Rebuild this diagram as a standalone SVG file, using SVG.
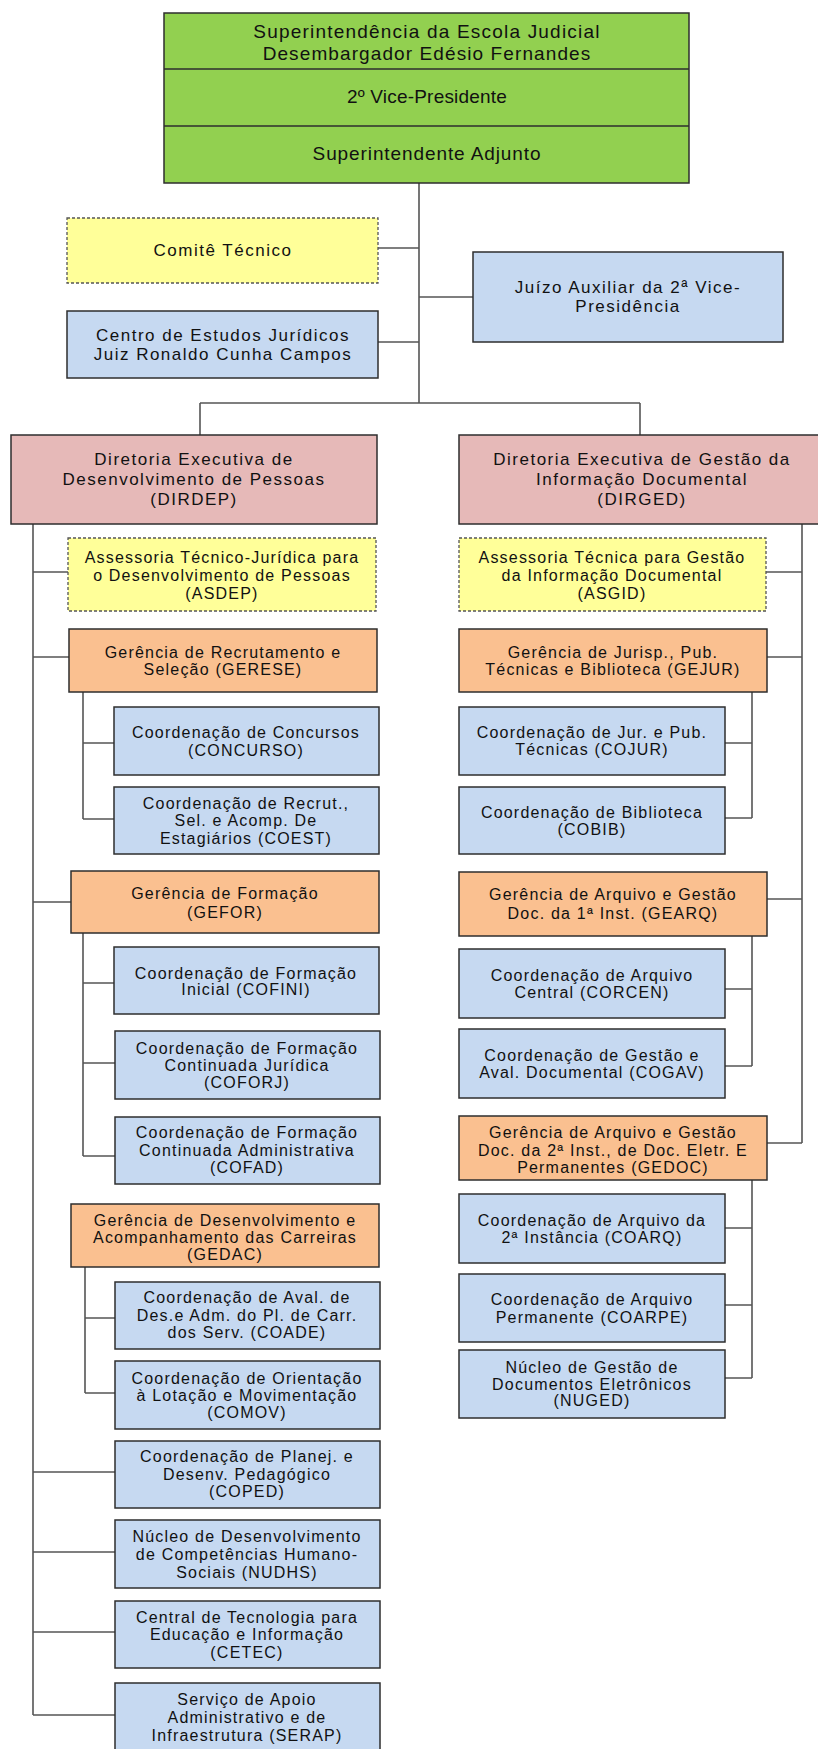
<svg xmlns="http://www.w3.org/2000/svg" width="818" height="1749" viewBox="0 0 818 1749">
<style>
  .box { stroke: #2e2e2e; stroke-width: 1.5; }
  .green { fill: #92D050; }
  .pink { fill: #E6B9B8; }
  .yellow { fill: #FFFF99; stroke: #555; stroke-dasharray: 3 2; stroke-width: 1.3; }
  .orange { fill: #FAC090; }
  .blue { fill: #C6D9F1; }
  text { font-family: "Liberation Sans", Arial, sans-serif; fill: #111; text-anchor: middle; }
  .t19 { font-size: 19px; letter-spacing: 1px; }
  .t17 { font-size: 17px; letter-spacing: 1.5px; }
  .t16 { font-size: 16px; letter-spacing: 1.2px; }
  .conn { fill: none; stroke: #555; stroke-width: 1.6; }
</style>
<rect width="818" height="1749" fill="#fff"/>

<g id="connectors" class="conn">
  <path d="M419,183 V403 M200,403 H640 M200,403 V435 M640,403 V435"/>
  <path d="M378,248 H419 M419,297 H473 M378,342 H419"/>
  <path d="M33,524 V1715 M33,572 H68 M33,657 H69 M33,902 H71 M33,1472 H115 M33,1552 H115 M33,1632 H115 M33,1715 H115"/>
  <path d="M83,692 V819 M83,743 H114 M83,819 H114"/>
  <path d="M83,933 V1156 M83,983 H114 M83,1063 H115 M83,1156 H115"/>
  <path d="M85,1267 V1393 M85,1318 H115 M85,1393 H115"/>
  <path d="M802,524 V1143 M766,572 H802 M767,657 H802 M767,899 H802 M767,1143 H802"/>
  <path d="M752,692 V818 M725,743 H752 M725,818 H752"/>
  <path d="M752,936 V1066 M725,989 H752 M725,1066 H752"/>
  <path d="M752,1180 V1378 M725,1228 H752 M725,1305 H752 M725,1378 H752"/>
</g>

<g id="top">
  <rect class="box green" x="164" y="13" width="525" height="170"/>
  <path d="M164,69 H689 M164,126 H689" stroke="#2e2e2e" stroke-width="1.5"/>
  <text class="t19" x="427" y="38" style="letter-spacing:1.2px">Superintendência da Escola Judicial</text>
  <text class="t19" x="427" y="60" style="letter-spacing:1.1px">Desembargador Edésio Fernandes</text>
  <text class="t19" x="427" y="103" style="letter-spacing:0.2px">2º Vice-Presidente</text>
  <text class="t19" x="427" y="160" style="letter-spacing:0.9px">Superintendente Adjunto</text>
</g>

<g id="comite">
  <rect class="yellow" x="67" y="218" width="311" height="65"/>
  <text class="t17" x="223" y="256">Comitê Técnico</text>
</g>
<g id="juizo">
  <rect class="box blue" x="473" y="252" width="310" height="90"/>
  <text class="t17" x="628" y="293">Juízo Auxiliar da 2ª Vice-</text>
  <text class="t17" x="628" y="312">Presidência</text>
</g>
<g id="centro">
  <rect class="box blue" x="67" y="311" width="311" height="67"/>
  <text class="t17" x="223" y="341">Centro de Estudos Jurídicos</text>
  <text class="t17" x="223" y="360">Juiz Ronaldo Cunha Campos</text>
</g>

<g id="dirdep">
  <rect class="box pink" x="11" y="435" width="366" height="89"/>
  <text class="t17" x="194" y="465">Diretoria Executiva de</text>
  <text class="t17" x="194" y="485">Desenvolvimento de Pessoas</text>
  <text class="t17" x="194" y="505">(DIRDEP)</text>
</g>
<g id="dirged">
  <rect class="box pink" x="459" y="435" width="370" height="89"/>
  <text class="t17" x="642" y="465">Diretoria Executiva de Gestão da</text>
  <text class="t17" x="642" y="485">Informação Documental</text>
  <text class="t17" x="642" y="505">(DIRGED)</text>
</g>

<g id="asdep">
  <rect class="yellow" x="68" y="538" width="308" height="73"/>
  <text class="t16" x="222" y="563">Assessoria Técnico-Jurídica para</text>
  <text class="t16" x="222" y="581">o Desenvolvimento de Pessoas</text>
  <text class="t16" x="222" y="599">(ASDEP)</text>
</g>
<g id="gerese">
  <rect class="box orange" x="69" y="629" width="308" height="63"/>
  <text class="t16" x="223" y="658">Gerência de Recrutamento e</text>
  <text class="t16" x="223" y="675">Seleção (GERESE)</text>
</g>
<g id="concurso">
  <rect class="box blue" x="114" y="707" width="265" height="68"/>
  <text class="t16" x="246" y="738">Coordenação de Concursos</text>
  <text class="t16" x="246" y="756">(CONCURSO)</text>
</g>
<g id="coest">
  <rect class="box blue" x="114" y="787" width="265" height="67"/>
  <text class="t16" x="246" y="809">Coordenação de Recrut.,</text>
  <text class="t16" x="246" y="826">Sel. e Acomp. De</text>
  <text class="t16" x="246" y="844">Estagiários (COEST)</text>
</g>
<g id="gefor">
  <rect class="box orange" x="71" y="871" width="308" height="62"/>
  <text class="t16" x="225" y="899">Gerência de Formação</text>
  <text class="t16" x="225" y="918">(GEFOR)</text>
</g>
<g id="cofini">
  <rect class="box blue" x="114" y="947" width="265" height="67"/>
  <text class="t16" x="246" y="979">Coordenação de Formação</text>
  <text class="t16" x="246" y="995">Inicial (COFINI)</text>
</g>
<g id="coforj">
  <rect class="box blue" x="115" y="1031" width="265" height="68"/>
  <text class="t16" x="247" y="1054">Coordenação de Formação</text>
  <text class="t16" x="247" y="1071">Continuada Jurídica</text>
  <text class="t16" x="247" y="1088">(COFORJ)</text>
</g>
<g id="cofad">
  <rect class="box blue" x="115" y="1117" width="265" height="67"/>
  <text class="t16" x="247" y="1138">Coordenação de Formação</text>
  <text class="t16" x="247" y="1156">Continuada Administrativa</text>
  <text class="t16" x="247" y="1173">(COFAD)</text>
</g>
<g id="gedac">
  <rect class="box orange" x="71" y="1204" width="308" height="63"/>
  <text class="t16" x="225" y="1226">Gerência de Desenvolvimento e</text>
  <text class="t16" x="225" y="1243">Acompanhamento das Carreiras</text>
  <text class="t16" x="225" y="1260">(GEDAC)</text>
</g>
<g id="coade">
  <rect class="box blue" x="115" y="1282" width="265" height="67"/>
  <text class="t16" x="247" y="1303">Coordenação de Aval. de</text>
  <text class="t16" x="247" y="1321">Des.e Adm. do Pl. de Carr.</text>
  <text class="t16" x="247" y="1338">dos Serv. (COADE)</text>
</g>
<g id="comov">
  <rect class="box blue" x="115" y="1361" width="265" height="68"/>
  <text class="t16" x="247" y="1384">Coordenação de Orientação</text>
  <text class="t16" x="247" y="1401">à Lotação e Movimentação</text>
  <text class="t16" x="247" y="1418">(COMOV)</text>
</g>
<g id="coped">
  <rect class="box blue" x="115" y="1441" width="265" height="67"/>
  <text class="t16" x="247" y="1462">Coordenação de Planej. e</text>
  <text class="t16" x="247" y="1480">Desenv. Pedagógico</text>
  <text class="t16" x="247" y="1497">(COPED)</text>
</g>
<g id="nudhs">
  <rect class="box blue" x="115" y="1520" width="265" height="68"/>
  <text class="t16" x="247" y="1542">Núcleo de Desenvolvimento</text>
  <text class="t16" x="247" y="1560">de Competências Humano-</text>
  <text class="t16" x="247" y="1578">Sociais (NUDHS)</text>
</g>
<g id="cetec">
  <rect class="box blue" x="115" y="1601" width="265" height="67"/>
  <text class="t16" x="247" y="1623">Central de Tecnologia para</text>
  <text class="t16" x="247" y="1640">Educação e Informação</text>
  <text class="t16" x="247" y="1658">(CETEC)</text>
</g>
<g id="serap">
  <rect class="box blue" x="115" y="1683" width="265" height="70"/>
  <text class="t16" x="247" y="1705">Serviço de Apoio</text>
  <text class="t16" x="247" y="1723">Administrativo e de</text>
  <text class="t16" x="247" y="1741">Infraestrutura (SERAP)</text>
</g>

<g id="asgid">
  <rect class="yellow" x="459" y="538" width="307" height="73"/>
  <text class="t16" x="612" y="563">Assessoria Técnica para Gestão</text>
  <text class="t16" x="612" y="581">da Informação Documental</text>
  <text class="t16" x="612" y="599">(ASGID)</text>
</g>
<g id="gejur">
  <rect class="box orange" x="459" y="629" width="308" height="63"/>
  <text class="t16" x="613" y="658">Gerência de Jurisp., Pub.</text>
  <text class="t16" x="613" y="675">Técnicas e Biblioteca (GEJUR)</text>
</g>
<g id="cojur">
  <rect class="box blue" x="459" y="707" width="266" height="68"/>
  <text class="t16" x="592" y="738">Coordenação de Jur. e Pub.</text>
  <text class="t16" x="592" y="755">Técnicas (COJUR)</text>
</g>
<g id="cobib">
  <rect class="box blue" x="459" y="787" width="266" height="67"/>
  <text class="t16" x="592" y="818">Coordenação de Biblioteca</text>
  <text class="t16" x="592" y="835">(COBIB)</text>
</g>
<g id="gearq">
  <rect class="box orange" x="459" y="872" width="308" height="64"/>
  <text class="t16" x="613" y="900">Gerência de Arquivo e Gestão</text>
  <text class="t16" x="613" y="919">Doc. da 1ª Inst. (GEARQ)</text>
</g>
<g id="corcen">
  <rect class="box blue" x="459" y="949" width="266" height="69"/>
  <text class="t16" x="592" y="981">Coordenação de Arquivo</text>
  <text class="t16" x="592" y="998">Central (CORCEN)</text>
</g>
<g id="cogav">
  <rect class="box blue" x="459" y="1029" width="266" height="69"/>
  <text class="t16" x="592" y="1061">Coordenação de Gestão e</text>
  <text class="t16" x="592" y="1078">Aval. Documental (COGAV)</text>
</g>
<g id="gedoc">
  <rect class="box orange" x="459" y="1116" width="308" height="64"/>
  <text class="t16" x="613" y="1138">Gerência de Arquivo e Gestão</text>
  <text class="t16" x="613" y="1156">Doc. da 2ª Inst., de Doc. Eletr. E</text>
  <text class="t16" x="613" y="1173">Permanentes (GEDOC)</text>
</g>
<g id="coarq">
  <rect class="box blue" x="459" y="1194" width="266" height="69"/>
  <text class="t16" x="592" y="1226">Coordenação de Arquivo da</text>
  <text class="t16" x="592" y="1243">2ª Instância (COARQ)</text>
</g>
<g id="coarpe">
  <rect class="box blue" x="459" y="1274" width="266" height="68"/>
  <text class="t16" x="592" y="1305">Coordenação de Arquivo</text>
  <text class="t16" x="592" y="1323">Permanente (COARPE)</text>
</g>
<g id="nuged">
  <rect class="box blue" x="459" y="1350" width="266" height="68"/>
  <text class="t16" x="592" y="1373">Núcleo de Gestão de</text>
  <text class="t16" x="592" y="1390">Documentos Eletrônicos</text>
  <text class="t16" x="592" y="1406">(NUGED)</text>
</g>
</svg>
